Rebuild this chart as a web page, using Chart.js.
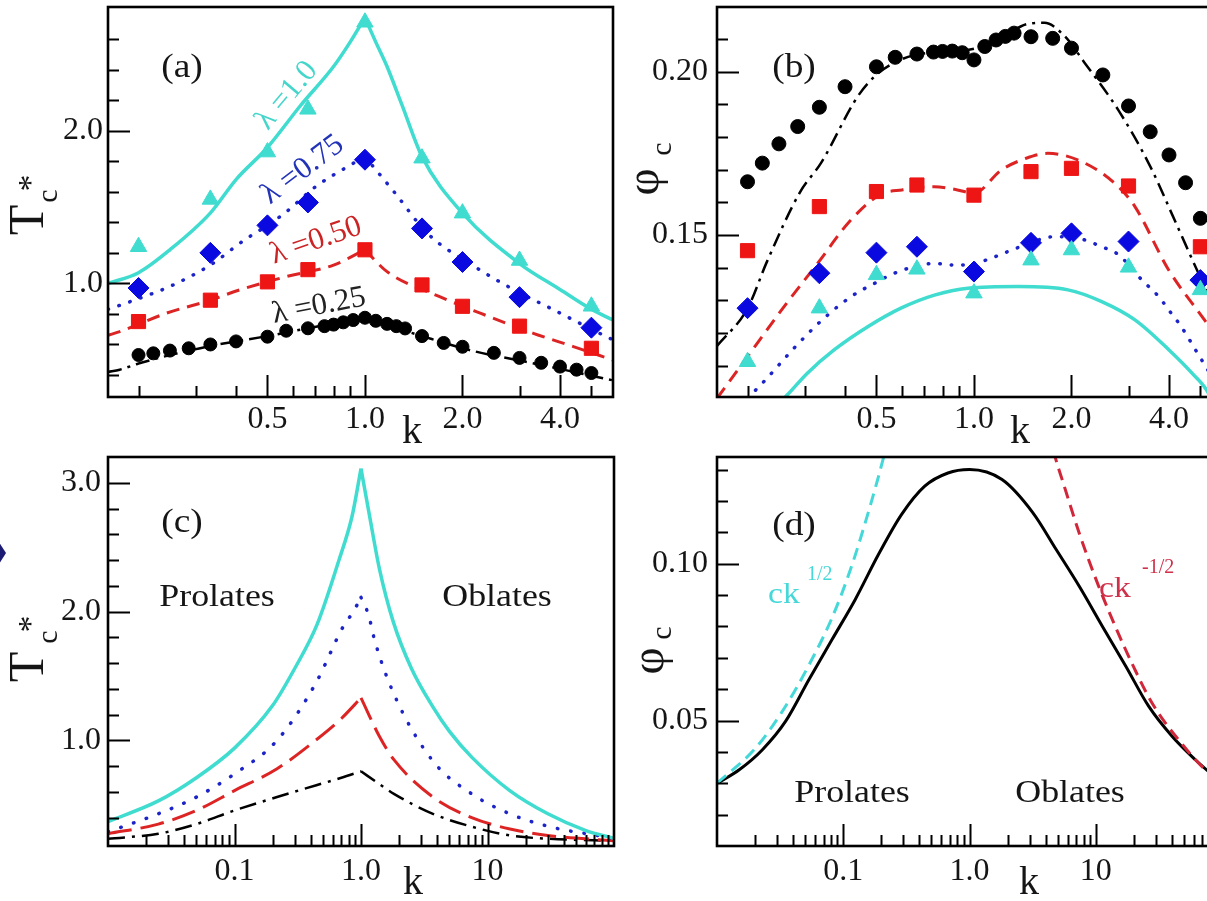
<!DOCTYPE html>
<html>
<head>
<meta charset="utf-8">
<script src="https://cdn.jsdelivr.net/npm/chart.js@4.4.1/dist/chart.umd.min.js"></script>
<style>
  html, body { margin: 0; padding: 0; overflow: hidden; background: #fff; width: 1207px; height: 901px; }
  canvas { position: absolute; }
</style>
</head>
<body>
<canvas id="pa" width="616" height="450" style="left:0px;top:0px"></canvas>
<canvas id="pb" width="624" height="450" style="left:616px;top:0px"></canvas>
<canvas id="pc" width="616" height="451" style="left:0px;top:450px"></canvas>
<canvas id="pd" width="624" height="451" style="left:616px;top:450px"></canvas>
<script>
const SERIF = '"Liberation Serif", "Times New Roman", serif';

// ---------- aspect ratios of the simulated ellipsoids ----------
const kSim = [0.2, 0.3333, 0.5, 0.6667, 1.0, 1.5, 2.0, 3.0, 5.0];
const kSimFine = [0.2, 0.2222, 0.25, 0.2857, 0.3333, 0.4, 0.5, 0.5714, 0.6667, 0.75, 0.8, 0.8571, 0.92, 1.0,
                  1.08, 1.17, 1.25, 1.33, 1.5, 1.75, 2.0, 2.5, 3.0, 3.5, 4.0, 4.5, 5.0];

// ---------- (a) critical temperature, simulation ----------
const tcSimL100 = [1.24, 1.55, 1.86, 2.14, 2.71, 1.82, 1.46, 1.15, 0.85];
const tcSimL075 = [0.97, 1.20, 1.38, 1.53, 1.81, 1.36, 1.14, 0.91, 0.71];
const tcSimL050 = [0.75, 0.89, 1.01, 1.09, 1.22, 0.99, 0.85, 0.72, 0.575];
const tcSimL025 = [0.531, 0.542, 0.56, 0.575, 0.60, 0.62, 0.651, 0.69, 0.706, 0.72, 0.73, 0.745, 0.76, 0.775,
                   0.755, 0.735, 0.72, 0.705, 0.655, 0.61, 0.585, 0.545, 0.512, 0.48, 0.455, 0.435, 0.413];

// ---------- (a) critical temperature, theory ----------
const kThL100a  = [0.161, 0.2, 0.25, 0.333, 0.4, 0.5, 0.63, 0.8, 0.9, 1.0, 1.08, 1.17, 1.3, 1.5, 2.0, 3.0, 4.0, 5.0, 5.83];
const tcThL100a = [1.0, 1.07, 1.22, 1.46, 1.68, 1.89, 2.16, 2.42, 2.58, 2.74, 2.58, 2.42, 2.17, 1.83, 1.46, 1.13, 0.96, 0.83, 0.76];
const kThL075a  = [0.161, 0.2, 0.25, 0.333, 0.425, 0.5, 0.565, 0.706, 0.886, 1.0, 1.24, 1.555, 2.18, 2.89, 3.83, 5.0, 5.83];
const tcThL075a = [0.83, 0.90, 0.98, 1.12, 1.285, 1.38, 1.46, 1.635, 1.766, 1.83, 1.59, 1.33, 1.11, 0.957, 0.826, 0.70, 0.63];
const kThL050a  = [0.161, 0.175, 0.244, 0.333, 0.41, 0.573, 0.8, 1.0, 1.17, 1.7, 2.27, 3.31, 4.4, 5.83];
const tcThL050a = [0.66, 0.684, 0.805, 0.89, 0.957, 1.045, 1.12, 1.22, 1.077, 0.913, 0.805, 0.673, 0.586, 0.498];
const kThL025a  = [0.161, 0.175, 0.2, 0.25, 0.333, 0.5, 0.7, 0.85, 1.0, 1.2, 1.5, 2.2, 3.0, 4.0, 5.0, 5.83];
const tcThL025a = [0.42, 0.435, 0.475, 0.53, 0.59, 0.655, 0.715, 0.75, 0.775, 0.72, 0.655, 0.553, 0.495, 0.44, 0.395, 0.365];

// ---------- (b) critical packing fraction, simulation ----------
const phiSimL100 = [0.1112, 0.1276, 0.1378, 0.1395, 0.1322, 0.1423, 0.1454, 0.1401, 0.1332];
const phiSimL075 = [0.1276, 0.1383, 0.1446, 0.1464, 0.1388, 0.1476, 0.1505, 0.1480, 0.1362];
const phiSimL050 = [0.1452, 0.1587, 0.1633, 0.1653, 0.1622, 0.1694, 0.1704, 0.1650, 0.1464];
const phiSimL025 = [0.1663, 0.1720, 0.1779, 0.1832, 0.1891, 0.1954, 0.2015, 0.2044, 0.2054, 0.2060, 0.2062, 0.2063, 0.2058, 0.2036,
                    0.2077, 0.2097, 0.2108, 0.2118, 0.2107, 0.2102, 0.2072, 0.1990, 0.1895, 0.1816, 0.1745, 0.1660, 0.1551];

// ---------- (b) critical packing fraction, theory ----------
const kThL100b   = [0.25, 0.265, 0.306, 0.37, 0.47, 0.595, 0.755, 0.958, 1.37, 1.95, 2.48, 3.14, 4.0, 4.71, 5.3, 5.45];
const phiThL100b = [0.0985, 0.101, 0.1077, 0.1148, 0.1219, 0.1276, 0.1316, 0.1337, 0.1342, 0.1332, 0.1296, 0.124, 0.1148, 0.1077, 0.1015, 0.0985];
const kThL075b   = [0.2, 0.227, 0.278, 0.34, 0.417, 0.5, 0.568, 0.755, 0.871, 1.0, 1.13, 1.4, 1.775, 2.1, 2.48, 2.79, 3.3, 3.72, 4.03, 4.36, 4.9, 5.83];
const phiThL075b = [0.100, 0.1056, 0.1153, 0.124, 0.1311, 0.1355, 0.1383, 0.1413, 0.1408, 0.1412, 0.1429, 0.1465, 0.1495, 0.149, 0.1464, 0.144, 0.1362, 0.1311, 0.1265, 0.122, 0.1138, 0.1016];
const kThL050b   = [0.161, 0.204, 0.259, 0.329, 0.417, 0.516, 0.6, 0.755, 0.87, 1.0, 1.215, 1.45, 1.69, 2.2, 2.79, 3.14, 3.99, 5.06, 5.83];
const phiThL050b = [0.100, 0.1139, 0.128, 0.1413, 0.1546, 0.1625, 0.1638, 0.1648, 0.164, 0.1628, 0.1699, 0.1735, 0.175, 0.172, 0.1648, 0.1587, 0.1393, 0.125, 0.1166];
const kThL025b   = [0.161, 0.2, 0.23, 0.29, 0.337, 0.437, 0.493, 0.55, 0.65, 0.8, 1.0, 1.2, 1.45, 1.65, 1.9, 2.2, 2.8, 3.5, 4.2, 5.0, 5.83];
const phiThL025b = [0.116, 0.1275, 0.142, 0.163, 0.172, 0.1923, 0.1985, 0.202, 0.205, 0.206, 0.207, 0.210, 0.2145, 0.215, 0.211, 0.2026, 0.188, 0.171, 0.1537, 0.137, 0.123];

// ---------- (c) critical temperature over the full k range ----------
const kC100  = [0.01, 0.025, 0.05, 0.1, 0.2, 0.3, 0.45, 0.67, 0.85, 1.0, 1.18, 1.4, 1.8, 2.5, 3.7, 5, 7.5, 15, 30, 60, 100];
const tcC100 = [0.37, 0.53, 0.71, 0.94, 1.27, 1.56, 1.9, 2.4, 2.74, 3.11, 2.72, 2.33, 1.92, 1.56, 1.26, 1.07, 0.87, 0.61, 0.43, 0.30, 0.24];
const kC075  = [0.01, 0.025, 0.05, 0.1, 0.217, 0.437, 0.72, 0.87, 1.0, 1.15, 1.28, 1.82, 3.7, 7.5, 15, 31, 100];
const tcC075 = [0.29, 0.43, 0.56, 0.74, 1.0, 1.44, 1.88, 2.0, 2.11, 1.97, 1.78, 1.36, 0.84, 0.585, 0.43, 0.33, 0.24];
const kC050  = [0.01, 0.025, 0.05, 0.1, 0.217, 0.437, 0.7, 1.0, 1.4, 1.82, 3.7, 7.5, 15.4, 31, 100];
const tcC050 = [0.275, 0.35, 0.456, 0.61, 0.78, 1.0, 1.17, 1.33, 1.03, 0.85, 0.56, 0.40, 0.31, 0.26, 0.22];
const kC025  = [0.01, 0.025, 0.05, 0.1, 0.217, 0.437, 0.7, 1.0, 1.4, 1.82, 3.7, 7.5, 15.4, 31, 100];
const tcC025 = [0.236, 0.275, 0.35, 0.456, 0.56, 0.65, 0.71, 0.76, 0.66, 0.585, 0.43, 0.33, 0.26, 0.236, 0.22];

// ---------- (d) critical packing fraction and limiting laws ----------
const kD    = [0.0102, 0.015, 0.0229, 0.035, 0.0534, 0.0815, 0.1245, 0.19, 0.29, 0.442, 0.675, 1.0,
               1.81, 3.18, 4.86, 7.4, 11.3, 17.3, 26.3, 40.2, 61.5, 100];
const phiD  = [0.0301, 0.0343, 0.0407, 0.0498, 0.063, 0.0758, 0.0886, 0.1029, 0.1157, 0.1247, 0.1289, 0.130,
               0.1268, 0.1162, 0.1045, 0.0928, 0.080, 0.0673, 0.0545, 0.045, 0.0375, 0.030];
const kProl   = [0.01, 0.02, 0.033, 0.054, 0.082, 0.116, 0.165, 0.212, 0.23];
const phiProl = [0.030, 0.041, 0.053, 0.068, 0.083, 0.099, 0.119, 0.135, 0.141];
const kObl    = [4.3, 4.7, 5.6, 7.5, 10.5, 15, 20, 28, 46, 75, 100];
const phiObl  = [0.142, 0.135, 0.125, 0.109, 0.093, 0.078, 0.067, 0.0555, 0.0435, 0.034, 0.030];

// ---------- axis ticks ----------
const kMajorAB = [0.5, 1, 2, 4];
const kLabelAB = ['0.5', '1.0', '2.0', '4.0'];
const kMinorAB = [0.2, 0.3, 0.4, 0.6, 0.7, 0.8, 0.9, 3, 5];
const kMajorCD = [0.1, 1, 10];
const kLabelCD = ['0.1', '1.0', '10'];
const kMinorCD = [];
[0.01, 0.1, 1, 10].forEach(d => { for (let m = 2; m <= 9; m++) kMinorCD.push(+(m * d).toPrecision(3)); });
const tMajorA = [1.0, 2.0],  tLabelA = ['1.0', '2.0'];
const tMinorA = [0.4, 0.6, 0.8, 1.2, 1.4, 1.6, 1.8, 2.2, 2.4, 2.6];
const pMajorB = [0.15, 0.20], pLabelB = ['0.15', '0.20'];
const pMinorB = [0.11, 0.12, 0.13, 0.14, 0.16, 0.17, 0.18, 0.19, 0.21];
const tMajorC = [1.0, 2.0, 3.0], tLabelC = ['1.0', '2.0', '3.0'];
const tMinorC = [0.4, 0.6, 0.8, 1.2, 1.4, 1.6, 1.8, 2.2, 2.4, 2.6, 2.8];
const pMajorD = [0.05, 0.10], pLabelD = ['0.05', '0.10'];
const pMinorD = [0.02, 0.03, 0.04, 0.06, 0.07, 0.08, 0.09, 0.11, 0.12, 0.13];

// ---------- colours ----------
const CYAN = '#3fdccf', BLUE = '#0a0ae0', RED = '#ee1515', BLACK = '#000000';
const BLUE_LINE = '#1c24c8', RED_LINE = '#dd2424';

// ---------- dataset helpers ----------
const pts = (ks, vs) => ks.map((k, i) => ({ x: k, y: vs[i] }));
function curve(ks, vs, style) {
  return Object.assign({ data: pts(ks, vs), showLine: true, pointRadius: 0, fill: false,
    cubicInterpolationMode: 'monotone', clip: 0, order: 2, borderWidth: 3 }, style);
}
// apex at k = 1 kept sharp: each side is its own smooth branch
function cusp(ks, vs, style) {
  const i = ks.indexOf(1.0);
  return [curve(ks.slice(0, i + 1), vs.slice(0, i + 1), style), curve(ks.slice(i), vs.slice(i), style)];
}
function symbols(ks, vs, style) {
  return Object.assign({ data: pts(ks, vs), showLine: false, order: 1, borderWidth: 1 }, style);
}
const triSym  = { pointStyle: 'triangle', pointRadius: 9.5, backgroundColor: CYAN, borderColor: CYAN };
const diaSym  = { pointStyle: 'rectRot', pointRadius: 10.5, backgroundColor: BLUE, borderColor: BLUE };
const sqSym   = { pointStyle: 'rect', pointRadius: 10, backgroundColor: RED, borderColor: RED };
const dotSym  = r => ({ pointStyle: 'circle', pointRadius: r, backgroundColor: BLACK, borderColor: BLACK });
const solidCyan = { borderColor: CYAN, borderWidth: 3.5 };
const dotted = gap => ({ borderColor: BLUE_LINE, borderWidth: 3.5, borderDash: [0.5, gap], borderCapStyle: 'round' });
const dashed = (d, g) => ({ borderColor: RED_LINE, borderWidth: 3, borderDash: [d, g] });
const dashDot = (d, g) => ({ borderColor: BLACK, borderWidth: 2.5, borderDash: [d, g, 3, g] });

// ---------- scales ----------
function xLog(min, max, majors, labels, axisH, pad) {
  return {
    type: 'logarithmic', position: 'bottom', min, max,
    grid: { display: false, drawTicks: false }, border: { display: false },
    afterBuildTicks: s => { s.ticks = majors.map(v => ({ value: v })); },
    afterFit: s => { s.height = axisH; s.paddingLeft = 0; s.paddingRight = 0; },
    ticks: { autoSkip: false, maxRotation: 0, minRotation: 0, padding: pad, color: '#151515',
             font: { family: SERIF, size: 32 }, callback: (v, i) => labels[i] }
  };
}
function yLin(min, max, majors, labels, axisW, pad) {
  return {
    type: 'linear', position: 'left', min, max,
    grid: { display: false, drawTicks: false }, border: { display: false },
    afterBuildTicks: s => { s.ticks = majors.map(v => ({ value: v })); },
    afterFit: s => { s.width = axisW; s.paddingTop = 0; s.paddingBottom = 0; },
    ticks: { autoSkip: false, padding: pad, color: '#151515',
             font: { family: SERIF, size: 32 }, callback: (v, i) => labels[i] }
  };
}

// per-panel tick marks and text, looked up by canvas id
const PANEL_TICKS = {};
const PANEL_NOTES = {};

// ---------- frame with inward tick marks ----------
const framePlugin = {
  id: 'frame',
  afterDatasetsDraw(chart) {
    const o = PANEL_TICKS[chart.canvas.id];
    const { ctx, chartArea: a, scales } = chart;
    ctx.save();
    ctx.strokeStyle = '#000';
    ctx.lineWidth = 2;
    ctx.beginPath();
    const tx = (vals, len) => vals.forEach(v => {
      const p = Math.round(scales.x.getPixelForValue(v)) + 0.5;
      ctx.moveTo(p, a.bottom); ctx.lineTo(p, a.bottom - len);
    });
    const ty = (vals, len) => vals.forEach(v => {
      const p = Math.round(scales.y.getPixelForValue(v)) + 0.5;
      ctx.moveTo(a.left, p); ctx.lineTo(a.left + len, p);
    });
    tx(o.xMajor, 22); tx(o.xMinor, 11); ty(o.yMajor, 22); ty(o.yMinor, 11);
    ctx.stroke();
    ctx.lineWidth = 2.6;
    ctx.strokeRect(a.left, a.top, a.right - a.left, a.bottom - a.top);
    ctx.restore();
  }
};

// ---------- text: panel tags, axis titles, curve labels ----------
const notesPlugin = {
  id: 'notes',
  afterDraw(chart) {
    const o = PANEL_NOTES[chart.canvas.id] || {};
    const { ctx, chartArea: a, scales } = chart;
    (o.items || []).forEach(it => {
      let x, y;
      if (it.at) { x = scales.x.getPixelForValue(it.at[0]); y = scales.y.getPixelForValue(it.at[1]); }
      else { x = a.left + it.dx; y = (it.fromBottom ? a.bottom : a.top) + it.dy; }
      ctx.save();
      ctx.translate(x, y);
      if (it.sx) ctx.scale(it.sx, 1);
      if (it.rot) ctx.rotate(it.rot * Math.PI / 180);
      ctx.font = (it.size || 32) + 'px ' + SERIF;
      ctx.fillStyle = it.color || '#151515';
      ctx.textAlign = it.align || 'center';
      ctx.textBaseline = it.base || 'middle';
      ctx.fillText(it.t, 0, 0);
      ctx.restore();
    });
    if (o.marker) {
      // clipped diamond glyph at the left page edge
      ctx.save();
      ctx.fillStyle = '#1b1b74';
      ctx.beginPath();
      ctx.moveTo(6, 103); ctx.lineTo(-10, 78); ctx.lineTo(-26, 103); ctx.lineTo(-10, 128);
      ctx.closePath(); ctx.fill();
      ctx.restore();
    }
  }
};

function panel(id, cfg) {
  PANEL_TICKS[id] = cfg.ticks;
  PANEL_NOTES[id] = { items: cfg.notes, marker: !!cfg.marker };
  return new Chart(document.getElementById(id), {
    type: 'scatter',
    data: { datasets: cfg.datasets },
    options: {
      responsive: false, animation: false, events: [],
      layout: { autoPadding: false, padding: { top: cfg.top, right: cfg.right, bottom: 0, left: 0 } },
      scales: { x: cfg.x, y: cfg.y },
      plugins: { legend: { display: false }, tooltip: { enabled: false } }
    },
    plugins: [framePlugin, notesPlugin]
  });
}

// rotated T_c* axis title, offsets from the plot's top-left corner
const tcTitle = (yT, yc, ys) => [
  { t: 'T', dx: -78, dy: yT, size: 50, rot: -90 },
  { t: 'c', dx: -59, dy: yc, size: 30, rot: -90 },
  { t: '*', dx: -76, dy: ys, size: 34, rot: -90 }
];

// (a)
panel('pa', {
  top: 7, right: 3,
  x: xLog(0.161, 5.83, kMajorAB, kLabelAB, 53, 3),
  y: yLin(0.256, 2.81, tMajorA, tLabelA, 108, 5),
  ticks: { xMajor: kMajorAB, xMinor: kMinorAB, yMajor: tMajorA, yMinor: tMinorA },
  datasets: [
    symbols(kSim, tcSimL100, triSym),
    symbols(kSim, tcSimL075, diaSym),
    symbols(kSim, tcSimL050, sqSym),
    symbols(kSimFine, tcSimL025, dotSym(6.5)),
    ...cusp(kThL100a, tcThL100a, solidCyan),
    ...cusp(kThL075a, tcThL075a, dotted(11)),
    ...cusp(kThL050a, tcThL050a, dashed(13, 8)),
    ...cusp(kThL025a, tcThL025a, dashDot(14, 6))
  ],
  notes: [
    { t: '(a)', dx: 74, dy: 61, size: 34, sx: 1.1 },
    { t: 'k', dx: 304, dy: 35, fromBottom: true, size: 40 },
    ...tcTitle(213, 189, 176),
    { t: 'λ =1.0', at: [0.574, 2.23], size: 31, rot: -50, color: '#45d6cb' },
    { t: 'λ =0.75', at: [0.643, 1.744], size: 31, rot: -37, color: '#2233b8' },
    { t: 'λ =0.50', at: [0.706, 1.279], size: 31, rot: -19, color: '#cc2424' },
    { t: 'λ =0.25', at: [0.721, 0.852], size: 31, rot: -11, color: '#222222' }
  ]
});

// (b)
panel('pb', {
  top: 7, right: 18,
  x: xLog(0.161, 5.83, kMajorAB, kLabelAB, 53, 3),
  y: yLin(0.1004, 0.2198, pMajorB, pLabelB, 101, 9),
  ticks: { xMajor: kMajorAB, xMinor: kMinorAB, yMajor: pMajorB, yMinor: pMinorB },
  datasets: [
    symbols(kSim, phiSimL100, triSym),
    symbols(kSim, phiSimL075, diaSym),
    symbols(kSim, phiSimL050, sqSym),
    symbols(kSimFine, phiSimL025, dotSym(7)),
    curve(kThL100b, phiThL100b, solidCyan),
    curve(kThL075b, phiThL075b, dotted(11)),
    curve(kThL050b, phiThL050b, dashed(13, 8)),
    curve(kThL025b, phiThL025b, dashDot(14, 6))
  ],
  notes: [
    { t: '(b)', dx: 77, dy: 61, size: 34, sx: 1.1 },
    { t: 'k', dx: 303, dy: 35, fromBottom: true, size: 40 },
    { t: 'φ', dx: -71, dy: 175, size: 47, rot: -90 },
    { t: 'c', dx: -54, dy: 142, size: 30, rot: -90 }
  ]
});

// (c)
panel('pc', {
  top: 7, right: 2,
  x: xLog(0.01, 100, kMajorCD, kLabelCD, 55, 6),
  y: yLin(0.18, 3.2, tMajorC, tLabelC, 108, 7),
  ticks: { xMajor: kMajorCD, xMinor: kMinorCD, yMajor: tMajorC, yMinor: tMinorC },
  datasets: [
    ...cusp(kC100, tcC100, solidCyan),
    ...cusp(kC075, tcC075, dotted(13)),
    ...cusp(kC050, tcC050, dashed(24, 9)),
    ...cusp(kC025, tcC025, dashDot(17, 7))
  ],
  notes: [
    { t: '(c)', dx: 74, dy: 66, size: 34, sx: 1.1 },
    { t: 'k', dx: 305, dy: 37, fromBottom: true, size: 40 },
    ...tcTitle(210, 180, 167),
    { t: 'Prolates', dx: 109, dy: 141, size: 32, sx: 1.12 },
    { t: 'Oblates', dx: 389, dy: 141, size: 32, sx: 1.12 }
  ],
  marker: true
});

// (d)
panel('pd', {
  top: 7, right: 18,
  x: xLog(0.01, 100, kMajorCD, kLabelCD, 55, 6),
  y: yLin(0.010, 0.134, pMajorD, pLabelD, 101, 9),
  ticks: { xMajor: kMajorCD, xMinor: kMinorCD, yMajor: pMajorD, yMinor: pMinorD },
  datasets: [
    curve(kProl, phiProl, { borderColor: '#45d8d8', borderWidth: 3, borderDash: [12, 7], order: 1 }),
    curve(kObl, phiObl, { borderColor: '#d0283a', borderWidth: 3, borderDash: [12, 7], order: 1 }),
    curve(kD, phiD, { borderColor: '#000', borderWidth: 3, order: 2 })
  ],
  notes: [
    { t: '(d)', dx: 77, dy: 69, size: 34, sx: 1.1 },
    { t: 'k', dx: 312, dy: 37, fromBottom: true, size: 40 },
    { t: 'φ', dx: -66, dy: 204, size: 47, rot: -90 },
    { t: 'c', dx: -54, dy: 176, size: 30, rot: -90 },
    { t: 'Prolates', dx: 135, dy: 337, size: 32, sx: 1.12 },
    { t: 'Oblates', dx: 353, dy: 337, size: 32, sx: 1.12 },
    { t: 'ck', dx: 51, dy: 146, size: 30, sx: 1.12, align: 'left', base: 'alphabetic', color: '#45d8d8' },
    { t: '1/2', dx: 90, dy: 123, size: 20, align: 'left', base: 'alphabetic', color: '#45d8d8' },
    { t: 'ck', dx: 382, dy: 140, size: 30, sx: 1.12, align: 'left', base: 'alphabetic', color: '#d0304a' },
    { t: '-1/2', dx: 425, dy: 116, size: 20, align: 'left', base: 'alphabetic', color: '#d0304a' }
  ]
});
</script>
</body>
</html>
